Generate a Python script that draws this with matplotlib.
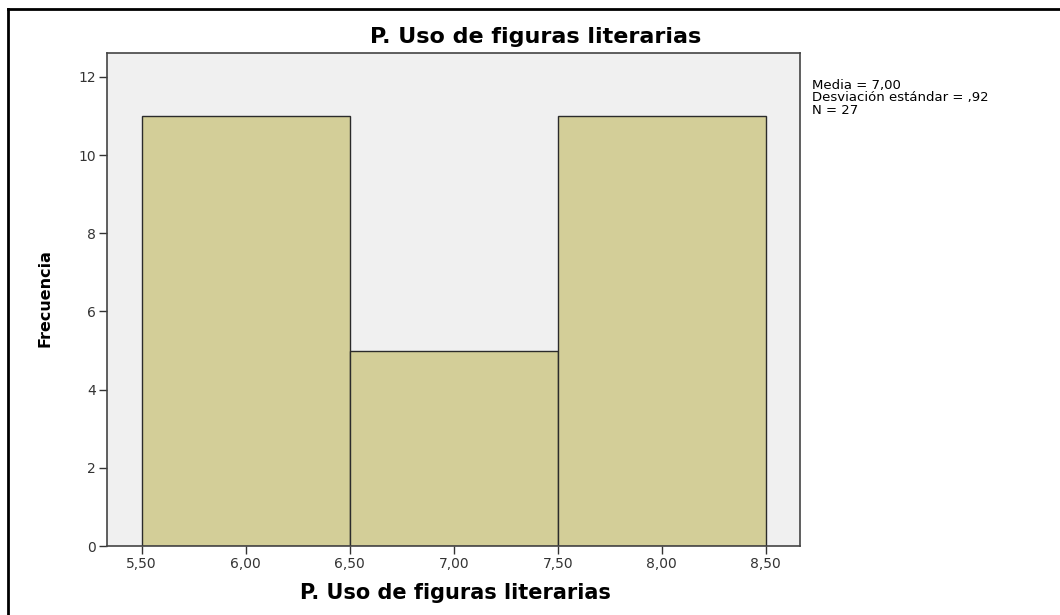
import matplotlib
matplotlib.use("Agg")
import matplotlib.pyplot as plt
from matplotlib.lines import Line2D

bin_edges = [5.5, 6.5, 7.5, 8.5]
counts = [11, 5, 11]
x_ticks = [5.5, 6.0, 6.5, 7.0, 7.5, 8.0, 8.5]
x_tick_labels = ["5,50", "6,00", "6,50", "7,00", "7,50", "8,00", "8,50"]
y_ticks = [0, 2, 4, 6, 8, 10, 12]
title = "P. Uso de figuras literarias"
x_label = "P. Uso de figuras literarias"
y_label = "Frecuencia"
stats_lines = ["Media = 7,00", "Desviación estándar = ,92", "N = 27"]

plt.rcParams['font.family'] = ['DejaVu Sans']

W, H = 1060, 615
fig = plt.figure(figsize=(W / 100, H / 100), dpi=100)
fig.patch.set_facecolor("white")

ax = fig.add_axes([107 / W, 1 - 546 / H, (800 - 107) / W, (546 - 52.7) / H])
ax.set_facecolor("#F0F0F0")

lefts = bin_edges[:-1]
widths = [b - a for a, b in zip(bin_edges[:-1], bin_edges[1:])]
ax.bar(lefts, counts, width=widths, align="edge", color="#D3CE98",
       edgecolor="#2b2b2b", linewidth=1.0, zorder=2)

ax.set_xlim(5.333, 8.665)
ax.set_ylim(0, 12.62)
ax.set_xticks(x_ticks)
ax.set_xticklabels(x_tick_labels)
ax.set_yticks(y_ticks)
ax.set_yticklabels([str(v) for v in y_ticks])
ax.tick_params(axis="both", direction="out", length=6, width=1, color="#333333",
               labelsize=10, labelcolor="#333333", pad=2)

for s in ax.spines.values():
    s.set_color("#444444")
    s.set_linewidth(1.2)

fig.text(455 / W, 1 - 593 / H, x_label, ha="center", va="center",
         fontsize=15, fontweight="bold")
fig.text(45 / W, 1 - 298 / H, y_label, ha="center", va="center", rotation=90,
         fontsize=11.5, fontweight="bold")

fig.text(536 / W, 1 - 37 / H, title, ha="center", va="center",
         fontsize=16, fontweight="bold")

fig.text(812 / W, 1 - 79 / H, "\n".join(stats_lines), ha="left", va="top",
         fontsize=9.5, linespacing=0.95)

# figure frame (left and top)
fig.add_artist(Line2D([8 / W, 8 / W], [0, 1 - 9 / H], transform=fig.transFigure,
                      color="black", linewidth=2))
fig.add_artist(Line2D([8 / W, 1], [1 - 9 / H, 1 - 9 / H], transform=fig.transFigure,
                      color="black", linewidth=2))

fig.savefig("out.png", dpi=100)
